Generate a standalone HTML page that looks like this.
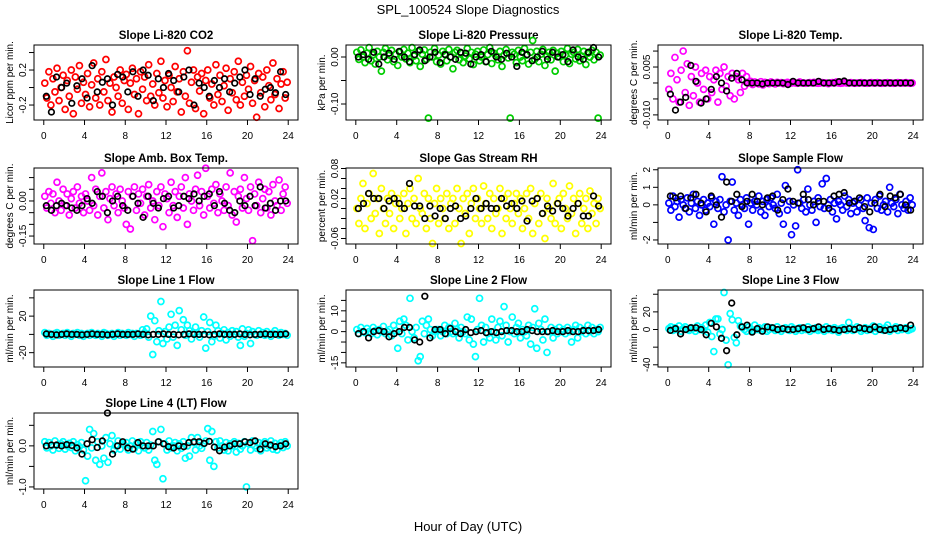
<!DOCTYPE html>
<html><head><meta charset="utf-8"><style>
html,body{margin:0;padding:0;background:#fff;}
svg{display:block;font-family:"Liberation Sans",sans-serif;}
</style></head><body>
<svg id="chart" width="936" height="540" viewBox="0 0 936 540" xmlns="http://www.w3.org/2000/svg">
<rect x="0" y="0" width="936" height="540" fill="#fff"/>
<text x="468" y="14" text-anchor="middle" font-size="13">SPL_100524  Slope Diagnostics</text>
<text x="468" y="531" text-anchor="middle" font-size="13">Hour of Day (UTC)</text>
</svg>
<script>
const hoursColor=[0.1,0.3,0.5,0.7,0.9,1.1,1.3,1.5,1.7,1.9,2.1,2.3,2.5,2.7,2.9,3.1,3.3,3.5,3.7,3.9,4.1,4.3,4.5,4.7,4.9,5.1,5.3,5.5,5.7,5.9,6.1,6.3,6.5,6.7,6.9,7.1,7.3,7.5,7.7,7.9,8.1,8.3,8.5,8.7,8.9,9.1,9.3,9.5,9.7,9.9,10.1,10.3,10.5,10.7,10.9,11.1,11.3,11.5,11.7,11.9,12.1,12.3,12.5,12.7,12.9,13.1,13.3,13.5,13.7,13.9,14.1,14.3,14.5,14.7,14.9,15.1,15.3,15.5,15.7,15.9,16.1,16.3,16.5,16.7,16.9,17.1,17.3,17.5,17.7,17.9,18.1,18.3,18.5,18.7,18.9,19.1,19.3,19.5,19.7,19.9,20.1,20.3,20.5,20.7,20.9,21.1,21.3,21.5,21.7,21.9,22.1,22.3,22.5,22.7,22.9,23.1,23.3,23.5,23.7,23.9];
const hoursBlack=[0.25,0.75,1.25,1.75,2.25,2.75,3.25,3.75,4.25,4.75,5.25,5.75,6.25,6.75,7.25,7.75,8.25,8.75,9.25,9.75,10.25,10.75,11.25,11.75,12.25,12.75,13.25,13.75,14.25,14.75,15.25,15.75,16.25,16.75,17.25,17.75,18.25,18.75,19.25,19.75,20.25,20.75,21.25,21.75,22.25,22.75,23.25,23.75];
const xTicks=[0,4,8,12,16,20,24];

const co2Color=[0.05,-0.12,0.18,-0.2,0.1,-0.05,0.22,-0.15,0.0,0.14,-0.25,0.08,-0.1,0.2,-0.3,0.12,-0.02,0.25,-0.18,0.06,-0.08,0.16,-0.22,0.03,0.28,-0.12,0.1,-0.2,0.18,-0.05,0.32,-0.15,0.05,-0.28,0.12,0.0,-0.1,0.2,-0.18,0.08,0.15,-0.25,0.05,0.22,-0.08,0.1,-0.3,0.18,-0.02,0.12,-0.15,0.26,-0.1,0.04,-0.2,0.16,-0.06,0.3,-0.12,0.08,-0.22,0.14,0.0,-0.16,0.24,-0.05,0.1,-0.28,0.18,-0.1,0.42,-0.18,0.06,0.2,-0.24,0.12,-0.04,0.16,-0.3,0.08,0.2,-0.12,0.04,-0.2,0.26,-0.08,0.14,-0.16,0.02,0.22,-0.26,0.1,-0.06,0.18,-0.14,0.3,-0.2,0.06,-0.1,0.14,-0.02,0.24,-0.18,0.08,-0.34,0.16,-0.06,0.12,-0.22,0.2,0.02,-0.14,0.28,-0.08,0.1,-0.24,0.04,0.18,-0.12,0.06];
const co2Black=[-0.1,-0.28,0.12,0.0,0.05,-0.18,0.02,0.1,-0.12,0.25,-0.05,0.06,0.1,-0.2,0.15,0.12,-0.05,0.18,-0.1,0.2,0.14,-0.15,0.1,0.0,0.16,0.08,-0.05,0.12,0.2,-0.2,0.05,0.0,-0.1,0.08,0.0,0.1,-0.05,0.05,0.12,0.2,-0.08,0.1,-0.1,-0.02,0.0,-0.06,0.18,-0.08];
const presColor=[0.01,-0.005,0.015,0.0,-0.012,0.008,0.02,-0.008,0.005,-0.015,0.012,0.0,-0.03,0.01,0.018,-0.006,0.004,0.014,-0.01,0.006,-0.018,0.01,0.0,0.016,-0.004,0.008,-0.012,0.02,0.002,-0.008,0.012,-0.02,0.006,0.015,-0.005,-0.13,0.01,0.0,0.018,-0.01,0.004,-0.015,0.012,0.006,-0.008,0.016,0.0,-0.025,0.01,0.014,-0.006,0.008,-0.012,0.002,0.018,-0.004,0.01,-0.016,0.006,0.012,-0.008,0.0,0.015,-0.01,0.005,0.02,-0.014,0.008,0.002,-0.006,0.012,-0.02,0.004,0.016,-0.002,-0.13,0.01,0.006,-0.012,0.014,0.0,-0.008,0.018,0.004,-0.015,0.01,0.035,-0.005,0.012,-0.01,0.006,0.016,-0.018,0.002,0.01,-0.006,0.014,-0.03,0.008,0.0,0.012,-0.01,0.004,0.018,-0.014,0.006,0.01,-0.004,0.016,-0.008,0.002,0.012,-0.016,0.008,0.0,0.014,-0.006,0.01,-0.13,0.004];
const presBlack=[0.0,0.005,-0.005,0.01,-0.015,0.0,0.008,-0.005,0.012,0.0,-0.01,0.005,0.015,-0.008,0.0,0.01,-0.012,0.005,0.0,-0.005,0.01,0.008,-0.015,0.0,0.005,-0.01,0.012,0.0,-0.005,0.008,0.0,-0.02,0.01,0.005,-0.008,0.0,0.012,-0.005,0.01,0.0,0.005,-0.01,0.015,0.0,-0.005,0.01,0.02,0.0];
const tempColor=[-0.002,0.003,-0.005,0.008,0.001,-0.006,0.004,0.01,-0.003,0.006,-0.007,0.002,-0.004,0.005,0.0,-0.006,0.003,-0.002,0.004,-0.005,0.002,-0.003,0.001,0.004,-0.006,0.003,-0.002,0.005,-0.001,0.002,-0.004,0.003,-0.005,0.002,0.001,-0.003,0.003,-0.001,0.002,0.0,0.0005,-0.0005,0.0003,0.0,-0.0003,0.0004,-0.0006,0.0002,0.0,-0.0002,0.0003,0.0,-0.0003,0.0002,0.0,0.0001,-0.0002,0.0,0.0002,0.0,0.0,0.0001,0.0,-0.0001,0.0003,0.0,0.0,-0.0001,0.0,0.0001,0.0,0.0002,0.0,-0.0001,0.0,0.0001,0.0,0.0,-0.0002,0.0,0.0001,0.0,0.0003,0.0,-0.0001,0.0,0.0002,0.0,0.0,0.0001,0.0,-0.0001,0.0,0.0,0.0001,0.0,0.0,-0.0001,0.0,0.0001,0.0,0.0,0.0001,0.0,-0.0001,0.0,0.0,0.0001,0.0,0.0,-0.0001,0.0,0.0001,0.0,0.0,0.0,0.0001,0.0,-0.0001,0.0];
const tempBlack=[-0.0035,-0.0085,-0.006,-0.0045,0.0055,0.0005,-0.0063,-0.005,-0.002,0.002,0.0,-0.0025,0.0015,0.003,0.001,0.0,0.0,0.0,-0.0003,0.0,0.0,0.0,0.0,-0.0005,0.0005,0.0,0.0,0.0,0.0,0.0005,0.0,0.0,0.0,0.0004,0.0006,0.0,0.0,0.0,0.0,0.0,0.0,0.0,0.0,0.0,0.0,0.0,0.0,0.0];
const ambColor=[0.02,-0.03,0.04,-0.01,0.03,-0.05,0.08,0.0,-0.04,0.05,-0.02,0.03,-0.06,0.01,0.04,-0.03,0.06,-0.01,0.02,-0.05,0.03,0.0,-0.04,0.1,-0.02,0.05,-0.06,0.02,0.12,-0.03,0.04,-0.08,0.01,0.06,-0.02,0.03,-0.05,0.05,0.0,-0.03,-0.1,0.04,-0.12,0.02,0.06,-0.04,0.03,-0.01,0.05,-0.06,0.02,0.07,-0.03,0.0,-0.08,0.04,-0.02,0.06,-0.11,0.03,0.01,-0.05,0.08,-0.02,0.04,-0.07,0.02,0.06,-0.03,0.1,-0.1,0.03,0.0,-0.04,0.05,0.11,-0.02,0.04,-0.06,0.14,0.02,-0.03,0.05,-0.01,0.07,-0.05,0.03,0.0,-0.04,0.06,-0.02,0.12,-0.06,0.04,-0.09,0.02,0.05,-0.03,0.1,0.01,-0.04,0.06,-0.17,0.03,-0.02,0.08,-0.05,0.01,0.05,-0.03,0.04,-0.06,0.07,0.0,-0.02,0.09,-0.04,0.03,0.06,-0.01];
const ambBlack=[-0.02,-0.04,-0.02,-0.01,-0.02,-0.03,-0.04,-0.02,0.01,-0.01,0.04,0.02,-0.05,0.0,0.02,-0.02,-0.04,0.02,-0.01,-0.07,0.02,-0.01,-0.03,0.01,0.02,-0.03,-0.02,0.02,0.01,0.03,0.0,0.02,0.03,-0.02,0.04,-0.01,-0.04,-0.05,0.0,-0.02,0.02,-0.02,0.06,-0.03,-0.01,-0.04,0.0,0.0];
const rhColor=[0.0,-0.03,0.02,0.05,-0.04,0.01,0.03,-0.02,0.07,-0.01,0.02,-0.05,0.04,0.0,-0.03,0.02,-0.01,0.03,-0.04,0.01,0.02,-0.02,0.0,0.03,-0.05,0.01,0.04,-0.02,0.02,-0.03,0.06,0.0,-0.01,0.03,-0.04,0.02,-0.02,-0.07,0.01,0.04,-0.03,0.02,0.0,-0.02,0.03,-0.04,0.01,0.02,-0.03,0.04,0.0,-0.07,0.02,-0.01,0.03,-0.05,0.01,0.04,-0.02,0.02,0.0,-0.03,0.045,0.01,-0.02,0.03,-0.04,0.02,-0.01,0.0,0.04,-0.05,0.02,-0.02,0.03,0.0,-0.03,0.01,0.03,-0.01,0.02,-0.04,0.0,0.03,-0.02,0.04,-0.05,0.01,0.02,-0.03,0.03,-0.01,-0.06,0.02,0.0,-0.02,0.05,-0.03,0.01,0.02,-0.04,0.03,0.0,-0.02,0.045,-0.01,0.02,-0.05,0.01,0.03,-0.03,0.0,0.02,-0.04,0.035,-0.01,0.01,-0.03,0.02,0.0];
const rhBlack=[0.0,0.01,0.03,0.02,0.02,0.0,0.015,0.02,0.01,0.0,0.05,0.005,0.005,-0.02,0.005,-0.015,0.0,-0.02,0.0,0.005,-0.02,-0.015,0.0,0.02,0.0,0.01,0.0,0.0,0.02,0.005,0.01,0.0,0.015,-0.025,0.015,0.02,-0.01,0.005,-0.005,0.01,0.0,-0.015,0.0,0.01,-0.015,-0.015,0.025,0.005];
const sampleColor=[0.1,-0.3,0.5,-0.1,0.2,-0.7,0.3,0.0,-0.2,0.4,-0.4,0.1,0.6,-0.2,0.2,-0.6,0.0,0.3,-0.3,0.1,-0.1,0.4,-1.1,0.2,-0.2,0.3,1.6,-0.4,0.0,-2.0,0.2,1.3,-0.3,0.1,-0.6,0.3,0.0,-0.2,0.4,-1.1,0.1,-0.3,0.2,0.0,0.5,-0.4,0.2,-0.6,0.3,-0.1,0.4,0.0,-0.2,0.6,-0.5,0.1,-1.1,1.1,-0.3,0.2,-1.7,0.0,-1.2,2.0,0.1,-0.2,0.3,-0.4,0.9,0.0,-0.3,0.2,-1.0,0.4,-0.1,1.2,-0.2,1.5,0.0,0.3,-0.4,0.1,-0.8,0.2,0.0,-0.3,0.5,-0.1,0.3,-0.5,0.1,0.2,-0.4,0.0,0.3,-0.2,-0.9,0.4,-1.3,0.1,-1.4,0.3,-0.2,0.5,-0.3,0.0,0.2,-0.4,1.0,0.1,-0.1,0.3,-0.5,0.6,0.0,-0.2,0.2,-0.3,0.4,0.0];
const sampleBlack=[0.5,0.4,0.5,-0.2,0.4,0.6,0.1,-0.4,0.5,0.0,-0.7,1.3,0.2,0.6,-0.1,0.2,0.6,0.2,0.0,0.4,0.5,-0.3,0.3,0.9,0.2,0.1,0.6,0.3,0.0,0.2,0.2,-0.2,0.5,0.6,0.7,0.1,0.2,0.4,-0.1,-0.4,0.1,0.6,-0.1,0.5,0.4,0.6,0.0,-0.3];
const line1Color=[2,-1,1,0,-2,1,2,-1,0,1,-1,2,0,-2,1,0,2,-1,1,-2,0,1,-1,2,0,-1,1,0,-2,2,1,-1,0,1,-2,0,2,-1,1,0,-1,2,0,1,-2,1,0,-1,5,2,6,-3,20,-22,15,-8,4,36,-10,3,-5,8,22,-3,10,-12,26,5,16,-1,10,4,-5,2,8,0,-3,4,19,-15,3,13,-8,-2,10,4,-4,1,5,-6,2,-2,4,0,3,-3,-12,6,-2,1,5,-10,3,0,-1,4,0,2,-1,3,0,-2,1,4,0,-1,2,0,1,-1];
const line1Black=[0.5,0,-0.5,0,0.5,0,0,-0.5,0,0.5,0,0,-0.5,0,0.5,0,0,0,0.5,0,-0.5,0,0,0.5,0,0,-0.5,0,0.5,0,0,0,-0.5,0,0.5,0,0,0,0.5,0,-0.5,0,0,0.5,0,0,0,0.5];
const line2Color=[1,-1,2,0,-0.5,1.5,0,-1,2,0.5,-1.5,1,0,2.5,-1,0,1,-2,3,0.5,-8,5,-1,6,3,-4,16,0,-3,2,-14,-12,5,-1,3,6,1,-2,0,1,1,-2,0,3,-1,2,0,-1,4,1,-3,2,0,-1,7,-4,6,-6,-12,1,16,3,-5,2,-1,-3,6,0,-4,2,5,-2,12,3,-5,0,7,-1,2,4,-3,1,0,-2,3,-6,2,11,-8,4,1,-4,6,-10,0,2,-3,1,-1,2,0,1,-1,2,0,-5,1,3,-3,2,0,1,-1,3,0,2,-1,1,0,2];
const line2Black=[-1,0,-3,0,0.5,0,-2.5,-1,0,2,2,-4,-5,17,-3,1,1,-1,1.5,0,-1,1,-0.5,0,0.5,-0.5,0,-0.5,0,0.5,0.5,0,0,1,0.5,0,0,0,0.5,0,0,0.5,0,0,0.5,0.5,0.5,1];
const line3Color=[1,3,-1,2,0,4,-2,1,3,0,-1,2,1,-2,4,0,2,-1,5,-3,8,-8,-25,12,12,-5,0,42,-12,-40,18,11,-9,-15,10,4,2,0,-2,3,1,-1,5,0,2,-1,1,3,-2,0,2,1,-1,3,0,-2,1,2,0,-1,3,1,-2,0,2,-1,1,0,3,-2,1,0,2,-1,0,1,-2,3,0,1,-1,2,0,-3,1,2,0,-1,8,2,-1,0,3,1,-2,0,2,-1,1,0,4,-2,1,3,0,-1,2,5,-2,0,1,3,-1,2,0,1,2,-1,0,1];
const line3Black=[-1,1,-5,0,2,2,0,-6,7,3,-10,-24,30,-6,3,5,-3,1,-2,3,2,0,1,0,0,1,2,0,1,3,0,1,0,-1,0,1,0,2,1,0,3,0,-1,0,1,2,1,5];
const line4Color=[0.1,-0.05,0.08,0.0,-0.1,0.12,0.02,-0.06,0.05,0.1,-0.08,0.0,0.06,-0.04,0.1,-0.12,0.03,-0.02,0.08,-0.1,-0.85,-0.25,0.4,-0.05,0.3,-0.35,0.1,-0.45,0.0,-0.3,0.2,-0.4,0.05,0.25,-0.1,0.0,0.12,-0.08,0.05,0.02,0.08,-0.1,0.0,0.12,-0.06,0.05,-0.12,0.1,0.0,-0.05,0.08,-0.1,0.02,0.35,-0.35,-0.45,0.1,0.4,-0.8,0.05,-0.1,0.12,-0.05,0.0,0.08,-0.12,0.05,-0.06,0.1,-0.3,0.0,-0.25,0.2,0.08,-0.1,0.2,0.0,-0.06,0.05,0.12,0.42,-0.35,0.35,-0.5,0.1,-0.05,0.12,0.0,-0.1,0.08,-0.12,0.05,0.0,0.1,-0.15,0.06,-0.08,0.0,0.1,-1.0,0.05,-0.1,0.12,0.0,-0.06,0.08,-0.12,0.04,0.1,-0.05,0.0,0.12,-0.08,0.06,-0.1,0.02,0.08,-0.04,0.1,0.0];
const line4Black=[0.0,0.02,0.02,0.0,0.03,0.01,-0.05,-0.2,0.05,0.15,-0.04,0.12,0.8,-0.2,0.0,0.1,-0.05,-0.08,0.08,0.0,0.0,0.0,0.1,0.05,-0.02,-0.05,0.0,-0.02,0.08,0.1,0.1,0.06,0.11,-0.03,-0.12,-0.03,0.0,0.05,0.05,0.1,0.08,0.12,-0.08,0.05,0.02,-0.02,0.0,0.05];

const panels=[
 {name:'co2',title:'Slope Li-820 CO2',ylab:'Licor ppm per min.',box:[34,45,298,120],ylim:[-0.371,0.486],ticks:[-0.2,0,0.2,0.4],labels:['-0.2','0.2'],labelAt:[-0.2,0.2],col:'#ff0000',c:co2Color,k:co2Black},
 {name:'pressure',title:'Slope Li-820 Pressure',ylab:'kPa per min.',box:[346,45,611,120],ylim:[-0.134,0.0255],ticks:[-0.1,-0.05,0],labels:['-0.10','0.00'],labelAt:[-0.1,0],col:'#00cd00',c:presColor,k:presBlack},
 {name:'temp',title:'Slope Li-820 Temp.',ylab:'degrees C per min.',box:[658,45,923,120],ylim:[-0.0116,0.0119],ticks:[-0.01,-0.005,0,0.005,0.01],labels:['-0.010','0.005'],labelAt:[-0.01,0.005],col:'#ff00ff',c:tempColor,k:tempBlack},
 {name:'amb-box-temp',title:'Slope Amb. Box Temp.',ylab:'degrees C per min.',box:[34,168,298,244],ylim:[-0.184,0.141],ticks:[-0.15,-0.1,-0.05,0,0.05,0.1],labels:['-0.15','0.00'],labelAt:[-0.15,0],col:'#ff00ff',c:ambColor,k:ambBlack},
 {name:'gas-rh',title:'Slope Gas Stream RH',ylab:'percent per min.',box:[346,168,611,244],ylim:[-0.071,0.081],ticks:[-0.06,-0.04,-0.02,0,0.02,0.04,0.06,0.08],labels:['-0.06','0.02','0.08'],labelAt:[-0.06,0.02,0.08],col:'#ffff00',c:rhColor,k:rhBlack},
 {name:'sample-flow',title:'Slope Sample Flow',ylab:'ml/min per min.',box:[658,168,923,244],ylim:[-2.23,2.1],ticks:[-2,-1,0,1,2],labels:['-2','0','1','2'],labelAt:[-2,0,1,2],col:'#0000ff',c:sampleColor,k:sampleBlack},
 {name:'line1-flow',title:'Slope Line 1 Flow',ylab:'ml/min per min.',box:[34,290,298,367],ylim:[-35.7,48.6],ticks:[-20,0,20,40],labels:['-20','20'],labelAt:[-20,20],col:'#00ffff',c:line1Color,k:line1Black},
 {name:'line2-flow',title:'Slope Line 2 Flow',ylab:'ml/min per min.',box:[346,290,611,367],ylim:[-17,20],ticks:[-15,-10,-5,0,5,10,15],labels:['-15','0','10'],labelAt:[-15,0,10],col:'#00ffff',c:line2Color,k:line2Black},
 {name:'line3-flow',title:'Slope Line 3 Flow',ylab:'ml/min per min.',box:[658,290,923,367],ylim:[-42.5,44.8],ticks:[-40,-20,0,20,40],labels:['-40','0','20'],labelAt:[-40,0,20],col:'#00ffff',c:line3Color,k:line3Black},
 {name:'line4-flow',title:'Slope Line 4 (LT) Flow',ylab:'ml/min per min.',box:[34,413,298,489],ylim:[-1.05,0.8],ticks:[-1,-0.5,0,0.5],labels:['-1.0','0.0'],labelAt:[-1,0],col:'#00ffff',c:line4Color,k:line4Black}
];
const NS='http://www.w3.org/2000/svg';
const svg=document.getElementById('chart');
function mk(tag,attrs,parent){const e=document.createElementNS(NS,tag);for(const a in attrs)e.setAttribute(a,attrs[a]);parent.appendChild(e);return e;}
panels.forEach(p=>{
 const [x0,y0,x1,y1]=p.box;
 const pad=0.96;
 const sx=v=>x0+(v+pad)/(24+2*pad)*(x1-x0);
 const sy=v=>y1-(v-p.ylim[0])/(p.ylim[1]-p.ylim[0])*(y1-y0);
 const g=mk('g',{},svg);
 
 
 const t=mk('text',{x:(x0+x1)/2,y:y0-6,'text-anchor':'middle','font-size':'11.5','font-weight':'bold'},g);
 t.textContent=p.title;
 
 
 const yl=mk('text',{x:0,y:0,'text-anchor':'middle','font-size':'10',transform:`translate(${x0-21},${(y0+y1)/2}) rotate(-90)`},g);
 yl.textContent=p.ylab;
 
 
 const pts=mk('g',{fill:'none','stroke-width':'1.7'},g);
 
 
 p.c.forEach((v,i)=>{const c=mk('circle',{cx:sx(hoursColor[i]),cy:sy(v),r:3,stroke:p.col},pts);
  
  });
 p.k.forEach((v,i)=>{const c=mk('circle',{cx:sx(hoursBlack[i]),cy:sy(v),r:2.8,stroke:'#000'},pts);
  
  });
 const box=mk('rect',{x:x0,y:y0,width:x1-x0,height:y1-y0,fill:'none',stroke:'#000','stroke-width':'1'},g);
 
 
 const ax=mk('g',{stroke:'#000','stroke-width':'1'},g);
 
 
 xTicks.forEach(v=>{mk('line',{x1:sx(v),x2:sx(v),y1:y1,y2:y1+5},ax);
  const tx=mk('text',{x:sx(v),y:y1+19,'text-anchor':'middle','font-size':'10',stroke:'none'},g);
  tx.textContent=String(v);
  
  });
 p.ticks.forEach(v=>mk('line',{x1:x0-5,x2:x0,y1:sy(v),y2:sy(v)},ax));
 p.labels.forEach((s,i)=>{const yy=sy(p.labelAt[i]);
  const ty=mk('text',{x:0,y:0,'text-anchor':'middle','font-size':'10',transform:`translate(${x0-8},${yy}) rotate(-90)`},g);
  ty.textContent=s;
  
  });
});
</script>
</body></html>
